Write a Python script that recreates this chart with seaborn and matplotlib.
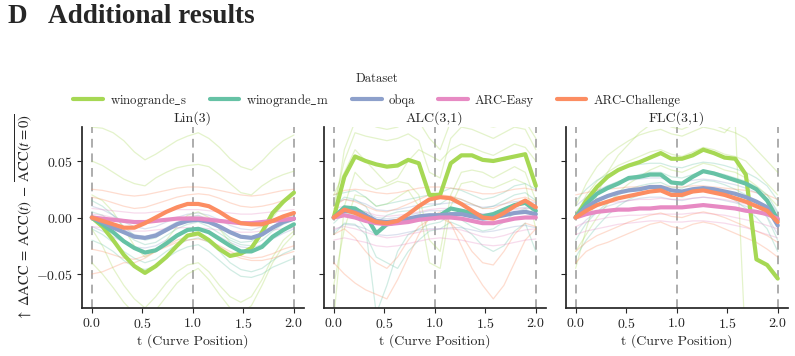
import numpy as np
import pandas as pd
import matplotlib
matplotlib.use("Agg")
import matplotlib.pyplot as plt
from matplotlib.lines import Line2D
import seaborn as sns

# ---------------- data ----------------
t_values = [0.0, 0.105, 0.211, 0.316, 0.421, 0.526, 0.632, 0.737, 0.842, 0.947,
            1.053, 1.158, 1.263, 1.368, 1.474, 1.579, 1.684, 1.789, 1.895, 2.0]
datasets = ["winogrande_s", "winogrande_m", "obqa", "ARC-Easy", "ARC-Challenge"]
dataset_labels = [r"winogrande$\_$s", r"winogrande$\_$m", "obqa", "ARC-Easy", "ARC-Challenge"]
panels = ["Lin(3)", "ALC(3,1)", "FLC(3,1)"]
x_ticks = [0.0, 0.5, 1.0, 1.5, 2.0]
y_ticks = [-0.05, 0.0, 0.05]

# mean curves
lin_wino_s = [0.0, -0.008, -0.020, -0.033, -0.043, -0.049, -0.043, -0.035, -0.025, -0.016,
              -0.014, -0.020, -0.028, -0.034, -0.032, -0.027, -0.013, 0.004, 0.014, 0.022]
lin_wino_m = [0.0, -0.006, -0.013, -0.021, -0.027, -0.031, -0.029, -0.023, -0.016, -0.011,
              -0.010, -0.013, -0.019, -0.025, -0.030, -0.030, -0.026, -0.017, -0.011, -0.006]
lin_obqa = [0.0, -0.004, -0.009, -0.013, -0.017, -0.018, -0.016, -0.011, -0.006, -0.003,
            -0.002, -0.004, -0.008, -0.013, -0.017, -0.018, -0.015, -0.009, -0.004, -0.001]
lin_arc_e = [0.0, -0.001, -0.002, -0.003, -0.004, -0.004, -0.003, -0.002, -0.001, -0.001,
             -0.001, -0.002, -0.003, -0.004, -0.005, -0.005, -0.004, -0.003, -0.002, -0.001]
lin_arc_c = [0.0, -0.003, -0.006, -0.009, -0.009, -0.005, 0.000, 0.005, 0.009, 0.012,
             0.012, 0.010, 0.005, -0.001, -0.005, -0.006, -0.006, -0.003, 0.001, 0.004]

alc_wino_s = [0.0, 0.036, 0.054, 0.050, 0.047, 0.045, 0.046, 0.051, 0.048, 0.020,
              0.020, 0.048, 0.055, 0.055, 0.051, 0.050, 0.052, 0.054, 0.056, 0.028]
alc_wino_m = [0.0, 0.009, 0.008, 0.002, -0.014, -0.006, -0.004, -0.003, -0.001, 0.001,
              0.002, 0.008, 0.006, 0.004, 0.001, 0.003, 0.007, 0.011, 0.013, 0.006]
alc_obqa = [0.0, 0.006, 0.005, 0.002, -0.003, -0.004, -0.003, -0.001, 0.001, 0.002,
            0.002, 0.003, 0.003, 0.001, -0.001, 0.000, 0.002, 0.004, 0.005, 0.003]
alc_arc_e = [0.0, 0.002, 0.000, -0.003, -0.005, -0.006, -0.005, -0.004, -0.002, -0.001,
             0.000, 0.000, -0.001, -0.003, -0.005, -0.005, -0.003, -0.001, 0.000, 0.000]
alc_arc_c = [0.0, 0.007, 0.004, 0.000, -0.004, -0.005, -0.003, 0.003, 0.010, 0.016,
             0.018, 0.017, 0.012, 0.006, 0.000, -0.001, 0.004, 0.010, 0.015, 0.009]

flc_wino_s = [0.0, 0.015, 0.027, 0.036, 0.042, 0.046, 0.049, 0.053, 0.057, 0.052,
              0.052, 0.055, 0.060, 0.057, 0.053, 0.052, 0.038, -0.037, -0.042, -0.054]
flc_wino_m = [0.0, 0.012, 0.021, 0.026, 0.030, 0.035, 0.036, 0.038, 0.038, 0.031,
              0.030, 0.036, 0.041, 0.039, 0.036, 0.033, 0.030, 0.025, 0.015, -0.002]
flc_obqa = [0.0, 0.009, 0.015, 0.019, 0.022, 0.024, 0.025, 0.027, 0.027, 0.024,
            0.023, 0.025, 0.026, 0.025, 0.023, 0.021, 0.018, 0.014, 0.009, -0.007]
flc_arc_e = [0.0, 0.003, 0.005, 0.006, 0.007, 0.007, 0.008, 0.008, 0.009, 0.009,
             0.009, 0.010, 0.011, 0.010, 0.009, 0.008, 0.006, 0.005, 0.003, -0.001]
flc_arc_c = [0.0, 0.006, 0.011, 0.014, 0.017, 0.019, 0.021, 0.023, 0.024, 0.020,
             0.020, 0.023, 0.024, 0.022, 0.020, 0.017, 0.014, 0.010, 0.006, -0.004]

# individual runs (faint lines)
lin_wino_s_runs = [
    [0.080, 0.079, 0.075, 0.068, 0.058, 0.051, 0.056, 0.062, 0.068, 0.072, 0.075, 0.070, 0.062, 0.052, 0.045, 0.042, 0.050, 0.060, 0.068, 0.073],
    [0.050, 0.046, 0.040, 0.034, 0.030, 0.028, 0.035, 0.040, 0.044, 0.046, 0.047, 0.045, 0.038, 0.030, 0.022, 0.020, 0.028, 0.034, 0.038, 0.041],
    [-0.010, -0.025, -0.045, -0.060, -0.072, -0.080, -0.070, -0.058, -0.048, -0.042, -0.040, -0.048, -0.060, -0.070, -0.075, -0.070, -0.055, -0.035, -0.020, -0.012],
    [-0.040, -0.050, -0.062, -0.075, -0.085, -0.090, -0.082, -0.070, -0.058, -0.050, -0.045, -0.055, -0.068, -0.080, -0.085, -0.078, -0.060, -0.040, -0.025, -0.015],
    [0.020, 0.015, 0.005, -0.010, -0.025, -0.035, -0.030, -0.020, -0.008, 0.002, 0.005, 0.000, -0.010, -0.022, -0.030, -0.028, -0.015, 0.000, 0.012, 0.022],
]
lin_wino_m_runs = [
    [0.015, 0.010, 0.002, -0.008, -0.016, -0.020, -0.018, -0.012, -0.005, 0.000, 0.002, -0.002, -0.010, -0.018, -0.022, -0.021, -0.015, -0.008, -0.002, 0.002],
    [-0.010, -0.015, -0.022, -0.030, -0.036, -0.040, -0.037, -0.030, -0.024, -0.020, -0.018, -0.022, -0.030, -0.040, -0.046, -0.048, -0.045, -0.038, -0.032, -0.028],
    [-0.020, -0.024, -0.030, -0.038, -0.044, -0.046, -0.043, -0.036, -0.030, -0.026, -0.024, -0.030, -0.038, -0.046, -0.052, -0.053, -0.050, -0.044, -0.040, -0.036],
    [0.005, 0.002, -0.005, -0.013, -0.020, -0.024, -0.022, -0.016, -0.010, -0.006, -0.004, -0.008, -0.014, -0.020, -0.024, -0.025, -0.020, -0.012, -0.006, -0.002],
]
lin_obqa_runs = [
    [0.010, 0.007, 0.002, -0.004, -0.008, -0.010, -0.008, -0.004, 0.000, 0.003, 0.004, 0.002, -0.002, -0.007, -0.010, -0.011, -0.008, -0.003, 0.001, 0.004],
    [-0.008, -0.012, -0.017, -0.022, -0.026, -0.027, -0.025, -0.020, -0.015, -0.011, -0.010, -0.012, -0.017, -0.022, -0.026, -0.027, -0.024, -0.019, -0.014, -0.010],
    [0.002, -0.001, -0.006, -0.011, -0.015, -0.017, -0.014, -0.009, -0.004, -0.001, 0.000, -0.002, -0.007, -0.012, -0.016, -0.017, -0.014, -0.009, -0.004, -0.001],
]
lin_arc_e_runs = [
    [0.008, 0.007, 0.006, 0.005, 0.004, 0.004, 0.005, 0.006, 0.007, 0.007, 0.007, 0.006, 0.005, 0.004, 0.003, 0.003, 0.004, 0.005, 0.006, 0.007],
    [-0.008, -0.009, -0.010, -0.011, -0.012, -0.012, -0.011, -0.010, -0.009, -0.009, -0.009, -0.010, -0.011, -0.012, -0.013, -0.013, -0.012, -0.011, -0.010, -0.009],
    [0.003, 0.002, 0.000, -0.002, -0.004, -0.005, -0.004, -0.002, 0.000, 0.001, 0.001, 0.000, -0.002, -0.004, -0.006, -0.006, -0.005, -0.003, -0.001, 0.000],
]
lin_arc_c_runs = [
    [0.025, 0.024, 0.022, 0.020, 0.019, 0.020, 0.022, 0.024, 0.026, 0.027, 0.027, 0.026, 0.024, 0.022, 0.020, 0.019, 0.020, 0.022, 0.024, 0.025],
    [0.018, 0.016, 0.013, 0.010, 0.008, 0.009, 0.012, 0.015, 0.018, 0.020, 0.021, 0.020, 0.017, 0.013, 0.010, 0.009, 0.010, 0.012, 0.015, 0.017],
    [-0.028, -0.030, -0.033, -0.036, -0.037, -0.034, -0.030, -0.026, -0.022, -0.020, -0.019, -0.021, -0.025, -0.030, -0.034, -0.036, -0.035, -0.032, -0.028, -0.025],
    [-0.050, -0.048, -0.044, -0.040, -0.040, -0.036, -0.030, -0.025, -0.020, -0.017, -0.016, -0.020, -0.026, -0.032, -0.036, -0.038, -0.038, -0.036, -0.033, -0.030],
]

alc_wino_s_runs = [
    [0.000, 0.060, 0.085, 0.085, 0.080, 0.078, 0.080, 0.085, 0.085, 0.070, 0.060, 0.085, 0.090, 0.085, 0.082, 0.080, 0.082, 0.085, 0.085, 0.070],
    [0.010, 0.050, 0.075, 0.072, 0.070, 0.068, 0.070, 0.074, 0.068, 0.040, 0.035, 0.070, 0.080, 0.078, 0.074, 0.070, 0.075, 0.080, 0.078, 0.060],
    [-0.090, 0.010, 0.040, 0.030, 0.025, 0.028, 0.032, 0.030, 0.020, -0.020, -0.030, 0.020, 0.040, 0.042, 0.040, 0.035, 0.040, 0.045, 0.040, 0.015],
    [-0.060, -0.010, 0.020, 0.018, 0.010, 0.012, 0.018, 0.024, 0.010, -0.040, -0.045, 0.010, 0.030, 0.032, 0.028, 0.026, 0.030, 0.034, 0.030, -0.010],
    [0.020, 0.040, 0.060, 0.050, 0.040, 0.030, 0.035, 0.050, 0.060, 0.055, 0.050, 0.060, 0.065, 0.062, 0.058, 0.055, 0.060, 0.065, 0.062, 0.050],
]
alc_wino_m_runs = [
    [0.010, 0.018, 0.016, 0.010, -0.005, 0.002, 0.005, 0.006, 0.008, 0.010, 0.012, 0.018, 0.016, 0.012, 0.008, 0.010, 0.015, 0.020, 0.022, 0.015],
    [-0.005, 0.004, 0.002, -0.010, -0.085, -0.060, -0.030, -0.015, -0.010, -0.006, -0.004, 0.002, -0.002, -0.008, -0.012, -0.010, -0.004, 0.004, 0.008, 0.000],
    [-0.015, -0.005, -0.006, -0.015, -0.035, -0.040, -0.045, -0.030, -0.020, -0.012, -0.010, -0.004, -0.008, -0.015, -0.025, -0.030, -0.025, -0.012, -0.005, -0.030],
    [0.020, 0.022, 0.024, 0.018, 0.010, 0.012, 0.014, 0.016, 0.018, 0.020, 0.022, 0.026, 0.024, 0.020, 0.016, 0.018, 0.022, 0.028, 0.030, 0.025],
]
alc_obqa_runs = [
    [0.012, 0.016, 0.015, 0.012, 0.007, 0.006, 0.007, 0.009, 0.011, 0.012, 0.012, 0.013, 0.013, 0.011, 0.009, 0.010, 0.012, 0.014, 0.015, 0.013],
    [-0.012, -0.006, -0.007, -0.010, -0.015, -0.016, -0.015, -0.013, -0.011, -0.010, -0.010, -0.009, -0.009, -0.011, -0.013, -0.012, -0.010, -0.008, -0.007, -0.009],
    [0.004, 0.009, 0.008, 0.005, 0.000, -0.001, 0.000, 0.002, 0.004, 0.006, 0.006, 0.007, 0.007, 0.005, 0.003, 0.004, 0.006, 0.008, 0.009, 0.007],
]
alc_arc_e_runs = [
    [0.008, 0.010, 0.008, 0.005, 0.002, 0.001, 0.002, 0.003, 0.005, 0.007, 0.008, 0.008, 0.007, 0.005, 0.003, 0.003, 0.005, 0.007, 0.008, 0.008],
    [-0.010, -0.008, -0.010, -0.013, -0.016, -0.018, -0.017, -0.015, -0.013, -0.011, -0.010, -0.010, -0.011, -0.014, -0.017, -0.018, -0.016, -0.013, -0.011, -0.010],
    [-0.020, -0.018, -0.020, -0.022, -0.025, -0.026, -0.025, -0.023, -0.021, -0.019, -0.018, -0.019, -0.020, -0.022, -0.024, -0.025, -0.024, -0.022, -0.020, -0.019],
]
alc_arc_c_runs = [
    [-0.040, -0.050, -0.058, -0.064, -0.068, -0.072, -0.055, -0.035, -0.015, 0.000, 0.005, -0.005, -0.025, -0.045, -0.060, -0.072, -0.060, -0.040, -0.020, -0.010],
    [0.020, 0.024, 0.025, 0.024, 0.022, 0.021, 0.022, 0.024, 0.026, 0.027, 0.027, 0.026, 0.025, 0.023, 0.021, 0.021, 0.023, 0.025, 0.026, 0.024],
    [0.010, 0.016, 0.014, 0.010, 0.006, 0.005, 0.008, 0.012, 0.016, 0.020, 0.020, 0.019, 0.016, 0.012, 0.008, 0.008, 0.012, 0.016, 0.018, 0.014],
    [-0.015, -0.010, -0.018, -0.030, -0.040, -0.045, -0.035, -0.020, -0.008, -0.002, 0.000, -0.005, -0.015, -0.030, -0.040, -0.042, -0.030, -0.015, -0.005, -0.008],
]

flc_wino_s_runs = [
    [-0.045, -0.010, 0.020, 0.040, 0.055, 0.065, 0.075, 0.082, 0.085, 0.080, 0.078, 0.082, 0.085, 0.082, 0.078, 0.075, 0.070, 0.060, 0.050, 0.040],
    [0.010, 0.030, 0.045, 0.055, 0.062, 0.068, 0.073, 0.076, 0.078, 0.074, 0.072, 0.076, 0.080, 0.078, 0.075, 0.085, -0.120, -0.130, -0.130, -0.130],
    [0.000, 0.020, 0.032, 0.040, 0.046, 0.050, 0.054, 0.058, 0.060, 0.056, 0.054, 0.058, 0.062, 0.060, 0.056, 0.054, 0.050, 0.040, 0.030, 0.020],
    [-0.030, -0.015, 0.000, 0.012, 0.022, 0.030, 0.036, 0.042, 0.046, 0.042, 0.040, 0.044, 0.048, 0.046, 0.042, 0.040, 0.035, 0.028, 0.020, 0.010],
]
flc_wino_m_runs = [
    [0.015, 0.025, 0.033, 0.038, 0.042, 0.045, 0.047, 0.048, 0.048, 0.045, 0.044, 0.047, 0.049, 0.048, 0.046, 0.043, 0.040, 0.035, 0.028, 0.015],
    [-0.020, -0.005, 0.005, 0.013, 0.020, 0.025, 0.028, 0.030, 0.031, 0.027, 0.026, 0.030, 0.033, 0.032, 0.029, 0.025, 0.020, 0.012, 0.000, -0.020],
    [0.005, 0.015, 0.022, 0.028, 0.032, 0.035, 0.038, 0.040, 0.040, 0.036, 0.035, 0.038, 0.041, 0.040, 0.038, 0.035, 0.032, 0.027, 0.020, 0.005],
    [-0.035, -0.020, -0.008, 0.002, 0.010, 0.016, 0.020, 0.023, 0.024, 0.020, 0.018, 0.022, 0.025, 0.024, 0.020, 0.015, 0.008, 0.000, -0.010, -0.030],
]
flc_obqa_runs = [
    [0.010, 0.018, 0.024, 0.028, 0.031, 0.033, 0.034, 0.035, 0.035, 0.032, 0.031, 0.033, 0.034, 0.033, 0.031, 0.029, 0.026, 0.022, 0.016, 0.004],
    [-0.012, -0.002, 0.005, 0.010, 0.013, 0.015, 0.017, 0.018, 0.018, 0.016, 0.015, 0.017, 0.018, 0.017, 0.015, 0.013, 0.010, 0.006, 0.001, -0.015],
    [0.000, 0.010, 0.016, 0.020, 0.023, 0.025, 0.026, 0.027, 0.027, 0.024, 0.023, 0.025, 0.026, 0.025, 0.023, 0.021, 0.018, 0.014, 0.008, -0.005],
]
flc_arc_e_runs = [
    [0.005, 0.009, 0.011, 0.013, 0.014, 0.015, 0.016, 0.016, 0.017, 0.016, 0.016, 0.017, 0.018, 0.017, 0.016, 0.014, 0.012, 0.010, 0.007, 0.002],
    [-0.008, -0.004, -0.002, 0.000, 0.001, 0.002, 0.002, 0.003, 0.003, 0.003, 0.003, 0.004, 0.004, 0.003, 0.002, 0.000, -0.002, -0.004, -0.007, -0.010],
    [-0.015, -0.012, -0.010, -0.008, -0.006, -0.005, -0.004, -0.003, -0.003, -0.004, -0.004, -0.003, -0.003, -0.004, -0.005, -0.007, -0.009, -0.012, -0.015, -0.018],
]
flc_arc_c_runs = [
    [0.020, 0.022, 0.024, 0.025, 0.026, 0.027, 0.027, 0.028, 0.028, 0.027, 0.027, 0.028, 0.028, 0.027, 0.026, 0.025, 0.024, 0.022, 0.020, 0.016],
    [-0.030, -0.022, -0.016, -0.012, -0.008, -0.004, -0.001, 0.002, 0.004, 0.001, 0.000, 0.003, 0.005, 0.003, 0.000, -0.004, -0.008, -0.012, -0.016, -0.022],
    [-0.040, -0.030, -0.025, -0.022, -0.018, -0.014, -0.010, -0.006, -0.004, -0.008, -0.010, -0.006, -0.004, -0.006, -0.010, -0.014, -0.018, -0.022, -0.028, -0.035],
]

means = {
    "Lin(3)": [lin_wino_s, lin_wino_m, lin_obqa, lin_arc_e, lin_arc_c],
    "ALC(3,1)": [alc_wino_s, alc_wino_m, alc_obqa, alc_arc_e, alc_arc_c],
    "FLC(3,1)": [flc_wino_s, flc_wino_m, flc_obqa, flc_arc_e, flc_arc_c],
}
runs = {
    "Lin(3)": [lin_wino_s_runs, lin_wino_m_runs, lin_obqa_runs, lin_arc_e_runs, lin_arc_c_runs],
    "ALC(3,1)": [alc_wino_s_runs, alc_wino_m_runs, alc_obqa_runs, alc_arc_e_runs, alc_arc_c_runs],
    "FLC(3,1)": [flc_wino_s_runs, flc_wino_m_runs, flc_obqa_runs, flc_arc_e_runs, flc_arc_c_runs],
}

# ---------------- tidy tables ----------------
mean_rows, run_rows = [], []
for p in panels:
    for d, vals in zip(datasets, means[p]):
        for t, v in zip(t_values, vals):
            mean_rows.append((p, d, t, v))
    for d, rl in zip(datasets, runs[p]):
        for r, vals in enumerate(rl):
            for t, v in zip(t_values, vals):
                run_rows.append((p, d, f"{d}-{r}", t, v))
mean_df = pd.DataFrame(mean_rows, columns=["panel", "dataset", "t", "value"])
run_df = pd.DataFrame(run_rows, columns=["panel", "dataset", "run", "t", "value"])

# ---------------- style ----------------
sns.set_theme(style="ticks")
plt.rcParams["font.family"] = ["cmr10", "DejaVu Serif"]
plt.rcParams["mathtext.fontset"] = "cm"
plt.rcParams["axes.formatter.use_mathtext"] = True
plt.rcParams["axes.unicode_minus"] = True

palette = {"winogrande_s": "#a6d854", "winogrande_m": "#66c2a5", "obqa": "#8da0cb",
           "ARC-Easy": "#e78ac3", "ARC-Challenge": "#fc8d62"}
FS = 10
LFS = 9.2

fig, axes = plt.subplots(1, 3, figsize=(7.95, 3.56), dpi=100, sharey=True)
fig.subplots_adjust(left=0.1028, right=0.991, top=0.643, bottom=0.135, wspace=0.088)

for ax, p in zip(axes, panels):
    for xv in [0.0, 1.0, 2.0]:
        ax.axvline(xv, color="#999999", ls=(0, (4.5, 3)), lw=1.4, alpha=0.8, zorder=0)
    sns.lineplot(data=run_df[run_df.panel == p], x="t", y="value", hue="dataset",
                 units="run", estimator=None, hue_order=datasets, palette=palette,
                 lw=0.9, alpha=0.3, legend=False, ax=ax)
    sns.lineplot(data=mean_df[mean_df.panel == p], x="t", y="value", hue="dataset",
                 hue_order=datasets, palette=palette, lw=3.0, legend=False, ax=ax)
    ax.set_title(p, fontsize=FS, pad=4)
    ax.set_xlim(-0.1, 2.1)
    ax.set_ylim(-0.08, 0.08)
    ax.set_xticks(x_ticks)
    ax.set_yticks(y_ticks)
    ax.tick_params(labelsize=FS, length=3.5, width=0.8, pad=3)
    ax.set_xlabel("t (Curve Position)", fontsize=FS, labelpad=2)
    ax.set_ylabel("")
    sns.despine(ax=ax)

axes[0].set_ylabel(r"$\uparrow\ \Delta\mathrm{ACC}\;=\;\mathrm{ACC}(t)\;-\;\overline{\mathrm{ACC}(t=0)}$",
                   fontsize=10.5, family="Liberation Serif", math_fontfamily="stix", labelpad=1)

handles = [Line2D([], [], color=palette[d], lw=3.0) for d in datasets]
leg = fig.legend(handles, dataset_labels, title="Dataset", ncol=5, loc="lower center",
                 bbox_to_anchor=(0.474, 0.68), frameon=False, fontsize=LFS,
                 title_fontsize=LFS, handlelength=2.3, columnspacing=1.8,
                 handletextpad=0.55, borderaxespad=0.0)

fig.text(0.009, 0.936, "D", fontsize=19.5, fontweight="bold", family="Liberation Serif", va="baseline")
fig.text(0.061, 0.936, "Additional results", fontsize=19.5, fontweight="bold",
         family="Liberation Serif", va="baseline")

fig.savefig("out.png", dpi=100)
